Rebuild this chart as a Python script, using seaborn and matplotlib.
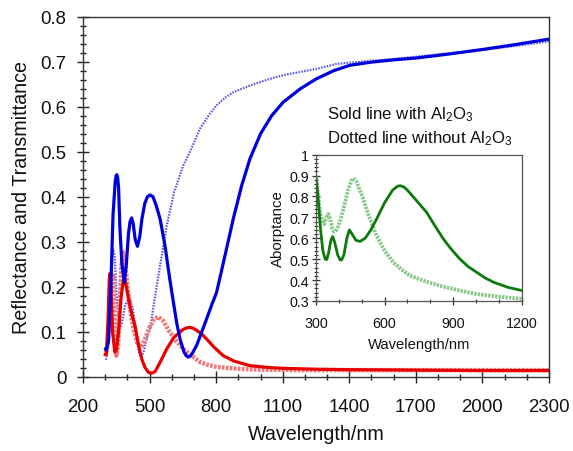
import numpy as np
import pandas as pd
import matplotlib
matplotlib.use("Agg")
import matplotlib.pyplot as plt
from matplotlib.ticker import MultipleLocator
import seaborn as sns

sns.set_theme(style="white")
plt.rcParams["font.family"] = ["Liberation Sans", "DejaVu Sans"]
plt.rcParams["mathtext.default"] = "regular"

# Transmittance with Al2O3 (solid blue)
t_with_wl = [300, 305, 315, 325, 335, 345, 349, 352, 356, 360, 366, 375, 386, 395, 405, 412,
             419, 426, 435, 445, 455, 465, 478, 490, 502, 515, 530, 547, 569, 590, 607, 622,
             637, 655, 665, 674, 683, 692, 712, 735, 757, 780, 802, 840, 877, 915, 952, 1000,
             1050, 1102, 1180, 1252, 1330, 1403, 1500, 1600, 1700, 1850, 2000, 2150, 2300]
t_with = [0.062, 0.060, 0.080, 0.200, 0.360, 0.435, 0.447, 0.449, 0.442, 0.420, 0.330, 0.250,
          0.210, 0.250, 0.320, 0.345, 0.353, 0.340, 0.305, 0.290, 0.310, 0.350, 0.385, 0.400,
          0.404, 0.400, 0.380, 0.351, 0.292, 0.220, 0.166, 0.120, 0.084, 0.055, 0.047, 0.044,
          0.046, 0.052, 0.070, 0.100, 0.129, 0.160, 0.188, 0.270, 0.351, 0.425, 0.484, 0.540,
          0.580, 0.610, 0.640, 0.662, 0.680, 0.692, 0.699, 0.704, 0.708, 0.717, 0.727, 0.738,
          0.750]

# Transmittance without Al2O3 (dotted blue)
t_without_wl = [300, 305, 315, 325, 335, 342, 352, 365, 375, 390, 410, 425, 440, 452, 463, 475,
                490, 502, 525, 547, 577, 610, 652, 682, 727, 765, 802, 840, 877, 952, 1030,
                1102, 1252, 1342, 1450, 1600, 1800, 2000, 2150, 2300]
t_without = [0.040, 0.040, 0.080, 0.200, 0.284, 0.270, 0.170, 0.107, 0.120, 0.160, 0.177, 0.150,
             0.090, 0.055, 0.044, 0.060, 0.090, 0.107, 0.180, 0.247, 0.336, 0.410, 0.470, 0.500,
             0.551, 0.580, 0.603, 0.620, 0.632, 0.647, 0.660, 0.670, 0.684, 0.695, 0.700, 0.706,
             0.716, 0.726, 0.735, 0.745]

# Reflectance with Al2O3 (solid red)
r_with_wl = [300, 305, 312, 318, 320, 323, 326, 333, 343, 350, 360, 372, 382, 388, 395, 410,
             422, 434, 450, 464, 480, 495, 509, 525, 550, 577, 610, 650, 668, 682, 696, 710,
             735, 757, 790, 832, 880, 952, 1030, 1102, 1250, 1400, 1700, 2000, 2300]
r_with = [0.050, 0.050, 0.120, 0.215, 0.229, 0.225, 0.200, 0.100, 0.055, 0.060, 0.100, 0.180,
          0.215, 0.218, 0.200, 0.160, 0.135, 0.114, 0.070, 0.040, 0.020, 0.010, 0.008, 0.012,
          0.035, 0.062, 0.088, 0.105, 0.109, 0.110, 0.108, 0.104, 0.095, 0.084, 0.066, 0.047,
          0.035, 0.025, 0.021, 0.019, 0.017, 0.016, 0.015, 0.014, 0.014]

# Reflectance without Al2O3 (dotted red)
r_without_wl = [300, 310, 320, 330, 335, 340, 345, 350, 358, 365, 372, 380, 388, 400, 415, 430,
                445, 463, 480, 500, 520, 539, 560, 590, 620, 652, 690, 727, 760, 802, 900,
                1000, 1200, 1600, 2000, 2300]
r_without = [0.045, 0.070, 0.150, 0.220, 0.225, 0.180, 0.080, 0.047, 0.070, 0.160, 0.240, 0.277,
             0.260, 0.200, 0.140, 0.100, 0.075, 0.066, 0.085, 0.110, 0.128, 0.133, 0.125, 0.100,
             0.080, 0.062, 0.047, 0.033, 0.027, 0.022, 0.018, 0.016, 0.015, 0.015, 0.015, 0.015]

# Absorptance (inset)
a_with_wl = [300, 310, 320, 330, 340, 347, 355, 365, 373, 382, 395, 405, 412, 422, 435, 446,
             458, 475, 493, 515, 540, 565, 600, 635, 655, 668, 685, 700, 740, 784, 820, 857,
             890, 930, 965, 1003, 1040, 1076, 1140, 1200]
a_with = [0.896, 0.780, 0.640, 0.540, 0.500, 0.498, 0.530, 0.590, 0.608, 0.580, 0.520, 0.497,
          0.496, 0.520, 0.600, 0.640, 0.620, 0.590, 0.585, 0.600, 0.640, 0.692, 0.770, 0.830,
          0.848, 0.852, 0.845, 0.830, 0.780, 0.724, 0.660, 0.597, 0.550, 0.500, 0.465, 0.437,
          0.410, 0.390, 0.365, 0.350]

a_without_wl = [300, 308, 318, 326, 336, 345, 354, 362, 372, 379, 390, 405, 420, 440, 455, 463,
                475, 490, 507, 530, 565, 600, 638, 675, 711, 750, 784, 850, 901, 950, 1003,
                1100, 1200]
a_without = [0.900, 0.820, 0.724, 0.690, 0.668, 0.700, 0.716, 0.690, 0.645, 0.632, 0.640, 0.680,
             0.740, 0.830, 0.875, 0.887, 0.875, 0.835, 0.788, 0.710, 0.612, 0.540, 0.485, 0.450,
             0.421, 0.405, 0.392, 0.370, 0.357, 0.345, 0.333, 0.320, 0.310]

main_xticks = [200, 500, 800, 1100, 1400, 1700, 2000, 2300]
main_yticks = [0, 0.1, 0.2, 0.3, 0.4, 0.5, 0.6, 0.7, 0.8]
main_ylabels = ["0", "0.1", "0.2", "0.3", "0.4", "0.5", "0.6", "0.7", "0.8"]
inset_xticks = [300, 600, 900, 1200]
inset_yticks = [0.3, 0.4, 0.5, 0.6, 0.7, 0.8, 0.9, 1.0]
inset_ylabels = ["0.3", "0.4", "0.5", "0.6", "0.7", "0.8", "0.9", "1"]

fig = plt.figure(figsize=(5.73, 4.52), dpi=100)
ax = fig.add_axes([0.145, 0.164, 0.813, 0.797])


def draw(axis, x, y, **kw):
    sns.lineplot(x=x, y=y, ax=axis, sort=False, estimator=None, **kw)


draw(ax, t_without_wl, t_without, color="#5555e6", lw=1.6, linestyle=(0, (0.7, 0.6)))
draw(ax, r_without_wl, r_without, color="#f07878", lw=3.2, linestyle=(0, (0.6, 0.3)))
draw(ax, r_with_wl, r_with, color="#e80000", lw=2.3)
draw(ax, t_with_wl, t_with, color="#0000dc", lw=2.3)

ax.set_xlim(200, 2300)
ax.set_ylim(0, 0.8)
ax.set_xticks(main_xticks)
ax.xaxis.set_minor_locator(MultipleLocator(100))
ax.set_yticks(main_yticks)
ax.set_yticklabels(main_ylabels)
ax.yaxis.set_minor_locator(MultipleLocator(0.02))
ax.tick_params(which="major", direction="inout", length=8, width=1, labelsize=13.4,
               colors="#222222", labelcolor="#111111", left=True, bottom=True)
ax.tick_params(which="minor", direction="inout", length=4, width=1, colors="#222222",
               left=True, bottom=True)
ax.tick_params(axis="x", which="major", pad=11)
ax.tick_params(axis="y", which="major", pad=8)
ax.set_xlabel("Wavelength/nm", fontsize=14.2, color="#111111", labelpad=7)
ax.set_ylabel("Reflectance and Transmittance", fontsize=14.2, color="#111111", labelpad=7)
for s in ax.spines.values():
    s.set_color("#333333")
    s.set_linewidth(1.0)

ax.text(1300, 0.584, "Sold line with Al$_2$O$_3$", fontsize=12.1, va="center", ha="left",
        color="#111111")
ax.text(1300, 0.531, "Dotted line without Al$_2$O$_3$", fontsize=12.1, va="center", ha="left",
        color="#111111")

# Inset: absorptance
ins = fig.add_axes([0.5515, 0.332, 0.359, 0.3235])
draw(ins, a_without_wl, a_without, color="#88c688", lw=2.8, linestyle=(0, (0.6, 0.3)))
draw(ins, a_with_wl, a_with, color="#0a7a0a", lw=2.0)
ins.set_xlim(300, 1200)
ins.set_ylim(0.3, 1.0)
ins.set_xticks(inset_xticks)
ins.xaxis.set_minor_locator(MultipleLocator(100))
ins.set_yticks(inset_yticks)
ins.set_yticklabels(inset_ylabels)
ins.yaxis.set_minor_locator(MultipleLocator(0.02))
ins.tick_params(which="major", direction="inout", length=6, width=0.9, labelsize=10.3,
                colors="#333333", labelcolor="#111111", left=True, bottom=True)
ins.tick_params(which="minor", direction="inout", length=3, width=0.8, colors="#333333",
                left=True, bottom=True)
ins.tick_params(axis="x", which="major", pad=8)
ins.tick_params(axis="y", which="major", pad=2)
ins.set_xlabel("Wavelength/nm", fontsize=10.6, color="#111111", labelpad=5)
ins.set_ylabel("Aborptance", fontsize=10.8, color="#111111", labelpad=3)
for s in ins.spines.values():
    s.set_color("#555555")
    s.set_linewidth(0.9)

fig.savefig("out.png", dpi=100)
